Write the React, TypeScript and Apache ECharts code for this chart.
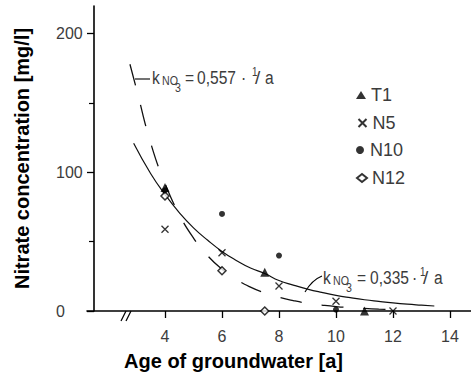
import React, { useEffect, useRef } from "react";
import * as echarts from "echarts";

// ---- data ----
const xTicks = [4, 6, 8, 10, 12, 14];
const yTicks = [0, 100, 200];
const yMinorTicks = [50, 150];

const t1: [number, number][] = [[4, 89], [7.5, 28], [11, 0]];
const n5: [number, number][] = [[4, 59], [6, 42], [8, 18], [10, 7], [12, 0]];
const n10: [number, number][] = [[4, 87], [6, 70], [8, 40], [10, 1]];
const n12: [number, number][] = [[4, 83], [6, 29], [7.5, 0]];

// curve k = 0.335 (solid)
const solidX = [2.9, 3.5, 4, 4.5, 5, 5.5, 6, 6.5, 7, 7.5, 8, 8.5, 9, 9.5, 10, 10.5, 11, 11.5, 12, 12.5, 13, 13.45];
const solidY = [121, 99, 84, 71, 60, 51, 43, 36.5, 31, 27, 22, 18.7, 15.8, 13.4, 11.3, 9.6, 8.1, 6.9, 5.8, 4.9, 4.2, 3.6];
// curve k = 0.557 (dashed)
const dashX = [2.77, 3, 3.5, 4, 4.5, 5, 5.5, 6, 6.5, 7, 7.5, 8, 8.5, 9, 9.5, 10, 10.5, 11, 11.5, 12, 12.4];
const dashY = [178, 160, 121, 92, 69.6, 52.6, 39.8, 30.1, 22.8, 17.2, 13, 9.9, 7.5, 5.6, 4.3, 3.2, 2.4, 1.85, 1.4, 1.06, 0.85];

const SANS = "'Liberation Sans', Arial, sans-serif";
const GRAY = "#3c3c3c";

function txt(text: string, x: number, y: number, size: number, narrow = true) {
  return {
    type: "text",
    x,
    y,
    scaleX: narrow ? 0.82 : 1,
    style: { text, fontSize: size, fontFamily: SANS, fill: GRAY, verticalAlign: "middle", align: "left" },
  };
}

function kLabel(base: number, value: string, xs: number[]) {
  const mid = base - 7;
  return [
    txt("k", xs[0], mid, 19),
    txt("NO", xs[1], base - 3, 13),
    txt("3", xs[2], base + 4, 13),
    txt("=", xs[3], mid, 19),
    txt(value, xs[4], mid, 19),
    txt("·", xs[5], mid, 19),
    txt("1", xs[6], base - 12.5, 12),
    txt("/", xs[7], mid, 19, false),
    txt("a", xs[8], mid, 19),
  ];
}

export default function App() {
  const ref = useRef<HTMLDivElement>(null);
  useEffect(() => {
    if (!ref.current) return;
    const chart = echarts.init(ref.current, null, { renderer: "svg" });
    const legendItem = (name: string, top: number) => ({
      data: [name],
      orient: "vertical",
      left: 351,
      top,
      itemWidth: 10,
      itemHeight: 8,
      selectedMode: false,
      textStyle: { fontSize: 18, fontFamily: SANS, color: GRAY },
    });
    chart.setOption({
      animation: false,
      backgroundColor: "#fff",
      grid: { left: 87, right: 0, top: 6, bottom: 60, containLabel: false },
      legend: [legendItem("T1", 81), legendItem("N5", 109), legendItem("N10", 136), legendItem("N12", 164)],
      xAxis: {
        type: "value",
        min: 1.263,
        max: 14.737,
        splitLine: { show: false },
        axisLine: { lineStyle: { color: "#000", width: 1.6 } },
        axisTick: { customValues: xTicks, length: 7, lineStyle: { color: "#000", width: 1.3 } },
        axisLabel: { customValues: xTicks, fontSize: 16, fontFamily: SANS, color: GRAY, margin: 17 },
        name: "Age of groundwater [a]",
        nameLocation: "middle",
        nameGap: 40,
        nameTextStyle: { fontSize: 20, fontWeight: "bold", fontFamily: SANS, color: "#000", padding: [0, 91, 0, 0] },
      },
      yAxis: [
        {
          type: "value",
          min: 0,
          max: 220,
          offset: -7,
          splitLine: { show: false },
          axisLine: { show: true, lineStyle: { color: "#000", width: 1.6 } },
          axisTick: { customValues: yTicks, length: 7, lineStyle: { color: "#000", width: 1.3 } },
          axisLabel: { customValues: yTicks, fontSize: 16, fontFamily: SANS, color: GRAY, margin: 38, align: "left" },
          name: "Nitrate concentration [mg/l]",
          nameLocation: "middle",
          nameGap: 62,
          nameTextStyle: { fontSize: 20, fontWeight: "bold", fontFamily: SANS, color: "#000" },
        },
        {
          type: "value",
          min: 0,
          max: 220,
          offset: -7,
          position: "left",
          splitLine: { show: false },
          axisLine: { show: false },
          axisTick: { customValues: yMinorTicks, length: 5, lineStyle: { color: "#000", width: 1.2 } },
          axisLabel: { show: false },
        },
      ],
      series: [
        {
          type: "line",
          name: "k0.335",
          data: solidX.map((x, i) => [x, solidY[i]]),
          showSymbol: false,
          smooth: true,
          lineStyle: { color: "#111", width: 1.2 },
          z: 1,
        },
        {
          type: "line",
          name: "k0.557",
          data: dashX.map((x, i) => [x, dashY[i]]),
          showSymbol: false,
          smooth: true,
          lineStyle: { color: "#111", width: 1.3, type: [22, 20] },
          z: 1,
        },
        {
          type: "scatter",
          name: "N12",
          data: n12,
          symbol: "diamond",
          symbolSize: 8,
          itemStyle: { color: "#fff", borderColor: "#000", borderWidth: 1.5 },
        },
        {
          type: "scatter",
          name: "T1",
          data: t1,
          symbol: "triangle",
          symbolSize: 9,
          itemStyle: { color: "#000" },
        },
        {
          type: "scatter",
          name: "N5",
          data: n5,
          symbol: "path://M0,0L10,10M10,0L0,10",
          symbolSize: 7,
          itemStyle: { color: "none", borderColor: "#000", borderWidth: 1.3 },
        },
        {
          type: "scatter",
          name: "N10",
          data: n10,
          symbol: "circle",
          symbolSize: 6,
          itemStyle: { color: "#000" },
        },
      ],
      graphic: [
        // axis break marks
        { type: "line", shape: { x1: 121, y1: 321, x2: 126, y2: 311 }, style: { stroke: "#000", lineWidth: 1.3 } },
        { type: "line", shape: { x1: 126, y1: 321, x2: 131, y2: 311 }, style: { stroke: "#000", lineWidth: 1.3 } },
        // leader lines
        { type: "line", shape: { x1: 135, y1: 79, x2: 150, y2: 79 }, style: { stroke: "#000", lineWidth: 1.1 } },
        {
          type: "bezierCurve",
          shape: { x1: 305, y1: 292, cpx1: 312, cpy1: 280, x2: 322, y2: 276 },
          style: { stroke: "#000", lineWidth: 1.1, fill: "none" },
        },
        ...kLabel(84, "0,557", [152, 162, 175, 185, 197, 241, 252, 255, 265]),
        ...kLabel(284, "0,335", [323, 333, 346, 357, 370, 412, 420, 423, 434]),
      ],
    });
    return () => chart.dispose();
  }, []);
  return <div ref={ref} style={{ position: "absolute", left: 0, top: 0, width: 471, height: 376 }} />;
}
